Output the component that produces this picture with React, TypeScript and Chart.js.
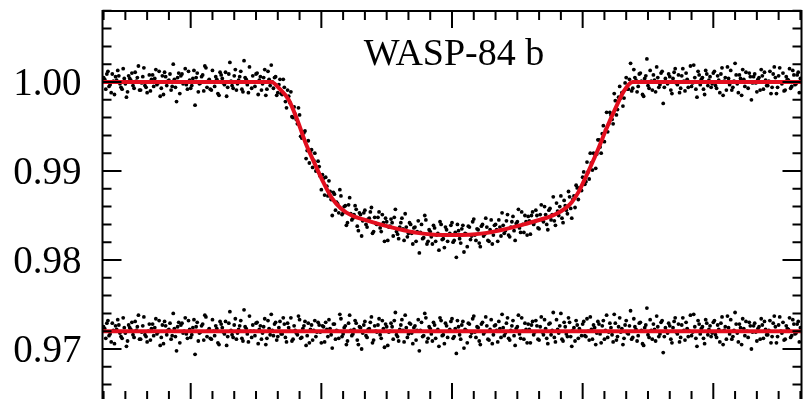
import React, { useEffect, useRef } from "react";
import { Chart, registerables } from "chart.js";

Chart.register(...registerables);

// Observation times, minutes from mid-transit (first set)
const minutes = [
  -160, -159, -158, -157, -156, -155, -154, -153, -152, -151, -150, -149, -148, -147, -146, -145, -144, -143, -142, -141,
  -140, -139, -138, -137, -136, -135, -134, -133, -132, -131, -130, -129, -128, -127, -126, -125, -124, -123, -122, -121,
  -120, -119, -118, -117, -116, -115, -114, -113, -112, -111, -110, -109, -108, -107, -106, -105, -104, -103, -102, -101,
  -100, -99, -98, -97, -96, -95, -94, -93, -92, -91, -90, -89, -88, -87, -86, -85, -84, -83, -82, -81,
  -80, -79, -78, -77, -76, -75, -74, -73, -72, -71, -70, -69, -68, -67, -66, -65, -64, -63, -62, -61,
  -60, -59, -58, -57, -56, -55, -54, -53, -52, -51, -50, -49, -48, -47, -46, -45, -44, -43, -42, -41,
  -40, -39, -38, -37, -36, -35, -34, -33, -32, -31, -30, -29, -28, -27, -26, -25, -24, -23, -22, -21,
  -20, -19, -18, -17, -16, -15, -14, -13, -12, -11, -10, -9, -8, -7, -6, -5, -4, -3, -2, -1,
  0, 1, 2, 3, 4, 5, 6, 7, 8, 9, 10, 11, 12, 13, 14, 15, 16, 17, 18, 19,
  20, 21, 22, 23, 24, 25, 26, 27, 28, 29, 30, 31, 32, 33, 34, 35, 36, 37, 38, 39,
  40, 41, 42, 43, 44, 45, 46, 47, 48, 49, 50, 51, 52, 53, 54, 55, 56, 57, 58, 59,
  60, 61, 62, 63, 64, 65, 66, 67, 68, 69, 70, 71, 72, 73, 74, 75, 76, 77, 78, 79,
  80, 81, 82, 83, 84, 85, 86, 87, 88, 89, 90, 91, 92, 93, 94, 95, 96, 97, 98, 99,
  100, 101, 102, 103, 104, 105, 106, 107, 108, 109, 110, 111, 112, 113, 114, 115, 116, 117, 118, 119,
  120, 121, 122, 123, 124, 125, 126, 127, 128, 129, 130, 131, 132, 133, 134, 135, 136, 137, 138, 139,
  140, 141, 142, 143, 144, 145, 146, 147, 148, 149, 150, 151, 152, 153, 154, 155, 156, 157, 158, 159, 160,
];

// Relative flux (upper light curve), first set
const flux = [
  1.0005, 0.9992, 1.0012, 0.9997, 1.0009, 0.9986, 1.0002, 1.0007, 0.9994, 1.0015, 0.9998, 0.9989, 1.0004, 1.001, 0.9993, 1.0001, 1.0018, 0.9991, 1.0006, 0.9996,
  0.9988, 1.0008, 1.0003, 0.9995, 1.0014, 0.9999, 0.9984, 1.0007, 1.0011, 0.9996, 1.0002, 0.9991, 1.002, 0.9994, 1.0005, 0.9987, 1.0009, 1.0, 0.9997, 1.0012,
  0.9993, 1.0004, 0.9974, 1.001, 0.9998, 1.0006, 0.999, 1.0016, 1.0001, 0.9992, 1.0013, 0.9995, 1.0003, 0.9985, 1.0008, 0.9999, 1.0011, 0.9994, 1.0022, 0.9996,
  1.0007, 0.9991, 1.0002, 1.0012, 0.9989, 1.0005, 0.9997, 1.0017, 0.9993, 1.0, 1.0009, 0.9986, 1.0006, 0.9998, 1.0014, 0.9992, 1.0003, 1.0019, 0.9993, 1.0006,
  0.9988, 1.0003, 0.9986, 0.9994, 0.9971, 0.9984, 0.9989, 0.996, 0.9964, 0.9953, 0.9963, 0.9937, 0.9943, 0.9914, 0.9934, 0.9921, 0.9904, 0.992, 0.9902, 0.9905,
  0.9879, 0.9892, 0.9893, 0.9872, 0.9877, 0.985, 0.9874, 0.9865, 0.9853, 0.9872, 0.9853, 0.9861, 0.9842, 0.987, 0.9845, 0.9851, 0.9857, 0.9833, 0.9851, 0.9844,
  0.9856, 0.9837, 0.9847, 0.9859, 0.9832, 0.9841, 0.9848, 0.9836, 0.9851, 0.9821, 0.9843, 0.9837, 0.9846, 0.9827, 0.9857, 0.9829, 0.9837, 0.9847, 0.9822, 0.9837,
  0.983, 0.984, 0.9818, 0.9837, 0.9832, 0.9808, 0.984, 0.9825, 0.9845, 0.9821, 0.9832, 0.9818, 0.9836, 0.9828, 0.9811, 0.984, 0.9824, 0.9837, 0.9821, 0.983,
  0.9842, 0.9822, 0.9803, 0.9833, 0.9819, 0.9839, 0.983, 0.9815, 0.9837, 0.9827, 0.9846, 0.9822, 0.9834, 0.9815, 0.984, 0.9829, 0.9837, 0.9821, 0.9845, 0.9828,
  0.984, 0.9821, 0.9837, 0.9853, 0.983, 0.9844, 0.9828, 0.9837, 0.9849, 0.9822, 0.9843, 0.9836, 0.9854, 0.9831, 0.9843, 0.9849, 0.9829, 0.9854, 0.9843, 0.985,
  0.9835, 0.9862, 0.9843, 0.9851, 0.9834, 0.9858, 0.9851, 0.9844, 0.9864, 0.985, 0.9872, 0.9842, 0.9861, 0.9852, 0.9871, 0.9847, 0.9872, 0.9884, 0.9868, 0.988,
  0.9893, 0.9885, 0.991, 0.9891, 0.9909, 0.992, 0.9903, 0.9935, 0.9927, 0.9942, 0.9933, 0.9966, 0.9953, 0.9963, 0.9953, 0.9979, 0.9969, 0.9995, 0.9988, 0.9982,
  1.0005, 0.9992, 1.0021, 0.9993, 1.0005, 0.9989, 1.0009, 1.0001, 0.9984, 1.0007, 0.9996, 1.0013, 0.9991, 1.0002, 1.0017, 0.9994, 1.001, 0.9976, 1.0004, 0.9998,
  1.0006, 0.9987, 1.0011, 0.9999, 1.0008, 0.9993, 1.0015, 0.999, 1.0003, 1.0, 0.9995, 1.0019, 0.9992, 1.0012, 0.9997, 1.0005, 0.9986, 1.0009, 1.0002, 0.9994,
  1.001, 0.9996, 1.0007, 0.9988, 1.0016, 1.0001, 0.9991, 1.0004, 1.0013, 0.9994, 1.0021, 0.9998, 1.0008, 0.9985, 1.0003, 1.0011, 0.9993, 1.0006, 0.9999, 1.0009,
  0.9989, 1.0005, 1.0014, 0.9992, 1.0002, 0.9996, 1.0012, 0.9994, 1.0017, 0.9987, 1.0007, 1.0, 1.001, 0.9991, 1.0003, 1.0015, 0.9995, 1.0008, 0.9998, 1.0011, 1.0004,
];

// Residuals (offset to 0.972), first set
const residuals = [
  0.9725, 0.9712, 0.9732, 0.9717, 0.9729, 0.9706, 0.9722, 0.9727, 0.9714, 0.9735, 0.9718, 0.9709, 0.9724, 0.973, 0.9713, 0.9721, 0.9738, 0.9711, 0.9726, 0.9716,
  0.9708, 0.9728, 0.9723, 0.9715, 0.9734, 0.9719, 0.9704, 0.9727, 0.9731, 0.9716, 0.9722, 0.9711, 0.974, 0.9714, 0.9725, 0.9707, 0.9729, 0.972, 0.9717, 0.9732,
  0.9713, 0.9724, 0.9694, 0.973, 0.9718, 0.9726, 0.971, 0.9736, 0.9721, 0.9712, 0.9733, 0.9715, 0.9723, 0.9705, 0.9728, 0.9719, 0.9731, 0.9714, 0.9742, 0.9716,
  0.9727, 0.9711, 0.9722, 0.9732, 0.9709, 0.9725, 0.9717, 0.9737, 0.9713, 0.972, 0.9729, 0.9706, 0.9726, 0.9718, 0.9734, 0.9712, 0.9723, 0.9739, 0.9715, 0.973,
  0.9714, 0.9731, 0.9717, 0.9728, 0.9708, 0.9724, 0.9735, 0.9711, 0.9721, 0.9716, 0.9733, 0.9713, 0.9726, 0.9704, 0.9729, 0.9722, 0.971, 0.9732, 0.9719, 0.9727,
  0.9707, 0.9725, 0.973, 0.9714, 0.9723, 0.9701, 0.9728, 0.9721, 0.9712, 0.9734, 0.9717, 0.9726, 0.9709, 0.9738, 0.9715, 0.9722, 0.9729, 0.9705, 0.9724, 0.9718,
  0.9731, 0.9713, 0.9723, 0.9736, 0.971, 0.972, 0.9727, 0.9716, 0.9732, 0.9702, 0.9725, 0.9719, 0.9729, 0.9711, 0.9741, 0.9714, 0.9722, 0.9733, 0.9708, 0.9724,
  0.9717, 0.9728, 0.9706, 0.9726, 0.9721, 0.9698, 0.973, 0.9715, 0.9735, 0.9712, 0.9723, 0.9709, 0.9727, 0.972, 0.9703, 0.9732, 0.9716, 0.9729, 0.9713, 0.9722,
  0.9734, 0.9714, 0.9695, 0.9725, 0.9711, 0.9731, 0.9722, 0.9707, 0.9728, 0.9718, 0.9737, 0.9713, 0.9724, 0.9705, 0.973, 0.9719, 0.9726, 0.971, 0.9733, 0.9716,
  0.9727, 0.9708, 0.9723, 0.9739, 0.9715, 0.9729, 0.9712, 0.9721, 0.9732, 0.9704, 0.9725, 0.9717, 0.9735, 0.9711, 0.9722, 0.9728, 0.9707, 0.9731, 0.9719, 0.9726,
  0.971, 0.9736, 0.9716, 0.9723, 0.9706, 0.9729, 0.9721, 0.9713, 0.9733, 0.9718, 0.974, 0.9709, 0.9725, 0.9714, 0.973, 0.9703, 0.9724, 0.9732, 0.9712, 0.972,
  0.9728, 0.9715, 0.9734, 0.971, 0.9722, 0.9727, 0.9705, 0.9731, 0.9717, 0.9726, 0.9711, 0.9738, 0.9719, 0.9724, 0.9708, 0.9729, 0.9714, 0.9735, 0.9723, 0.9712,
  0.9732, 0.9717, 0.9743, 0.9713, 0.9725, 0.9709, 0.9729, 0.9721, 0.9704, 0.9727, 0.9716, 0.9733, 0.9711, 0.9722, 0.9737, 0.9714, 0.973, 0.9696, 0.9724, 0.9718,
  0.9726, 0.9707, 0.9731, 0.9719, 0.9728, 0.9713, 0.9735, 0.971, 0.9723, 0.972, 0.9715, 0.9739, 0.9712, 0.9732, 0.9717, 0.9725, 0.9706, 0.9729, 0.9722, 0.9714,
  0.973, 0.9716, 0.9727, 0.9708, 0.9736, 0.9721, 0.9711, 0.9724, 0.9733, 0.9714, 0.9741, 0.9718, 0.9728, 0.9705, 0.9723, 0.9731, 0.9713, 0.9726, 0.9719, 0.9729,
  0.9709, 0.9725, 0.9734, 0.9712, 0.9722, 0.9716, 0.9732, 0.9714, 0.9737, 0.9707, 0.9727, 0.972, 0.973, 0.9711, 0.9723, 0.9735, 0.9715, 0.9728, 0.9718, 0.9731, 0.9724,
];

// Observation times, second (interleaved) set
const minutesB = [
  -159.5, -158.5, -157.5, -156.5, -155.5, -154.5, -153.5, -152.5, -151.5, -150.5, -149.5, -148.5, -147.5, -146.5, -145.5, -144.5, -143.5, -142.5, -141.5, -140.5,
  -139.5, -138.5, -137.5, -136.5, -135.5, -134.5, -133.5, -132.5, -131.5, -130.5, -129.5, -128.5, -127.5, -126.5, -125.5, -124.5, -123.5, -122.5, -121.5, -120.5,
  -119.5, -118.5, -117.5, -116.5, -115.5, -114.5, -113.5, -112.5, -111.5, -110.5, -109.5, -108.5, -107.5, -106.5, -105.5, -104.5, -103.5, -102.5, -101.5, -100.5,
  -99.5, -98.5, -97.5, -96.5, -95.5, -94.5, -93.5, -92.5, -91.5, -90.5, -89.5, -88.5, -87.5, -86.5, -85.5, -84.5, -83.5, -82.5, -81.5, -80.5,
  -79.5, -78.5, -77.5, -76.5, -75.5, -74.5, -73.5, -72.5, -71.5, -70.5, -69.5, -68.5, -67.5, -66.5, -65.5, -64.5, -63.5, -62.5, -61.5, -60.5,
  -59.5, -58.5, -57.5, -56.5, -55.5, -54.5, -53.5, -52.5, -51.5, -50.5, -49.5, -48.5, -47.5, -46.5, -45.5, -44.5, -43.5, -42.5, -41.5, -40.5,
  -39.5, -38.5, -37.5, -36.5, -35.5, -34.5, -33.5, -32.5, -31.5, -30.5, -29.5, -28.5, -27.5, -26.5, -25.5, -24.5, -23.5, -22.5, -21.5, -20.5,
  -19.5, -18.5, -17.5, -16.5, -15.5, -14.5, -13.5, -12.5, -11.5, -10.5, -9.5, -8.5, -7.5, -6.5, -5.5, -4.5, -3.5, -2.5, -1.5, -0.5,
  0.5, 1.5, 2.5, 3.5, 4.5, 5.5, 6.5, 7.5, 8.5, 9.5, 10.5, 11.5, 12.5, 13.5, 14.5, 15.5, 16.5, 17.5, 18.5, 19.5,
  20.5, 21.5, 22.5, 23.5, 24.5, 25.5, 26.5, 27.5, 28.5, 29.5, 30.5, 31.5, 32.5, 33.5, 34.5, 35.5, 36.5, 37.5, 38.5, 39.5,
  40.5, 41.5, 42.5, 43.5, 44.5, 45.5, 46.5, 47.5, 48.5, 49.5, 50.5, 51.5, 52.5, 53.5, 54.5, 55.5, 56.5, 57.5, 58.5, 59.5,
  60.5, 61.5, 62.5, 63.5, 64.5, 65.5, 66.5, 67.5, 68.5, 69.5, 70.5, 71.5, 72.5, 73.5, 74.5, 75.5, 76.5, 77.5, 78.5, 79.5,
  80.5, 81.5, 82.5, 83.5, 84.5, 85.5, 86.5, 87.5, 88.5, 89.5, 90.5, 91.5, 92.5, 93.5, 94.5, 95.5, 96.5, 97.5, 98.5, 99.5,
  100.5, 101.5, 102.5, 103.5, 104.5, 105.5, 106.5, 107.5, 108.5, 109.5, 110.5, 111.5, 112.5, 113.5, 114.5, 115.5, 116.5, 117.5, 118.5, 119.5,
  120.5, 121.5, 122.5, 123.5, 124.5, 125.5, 126.5, 127.5, 128.5, 129.5, 130.5, 131.5, 132.5, 133.5, 134.5, 135.5, 136.5, 137.5, 138.5, 139.5,
  140.5, 141.5, 142.5, 143.5, 144.5, 145.5, 146.5, 147.5, 148.5, 149.5, 150.5, 151.5, 152.5, 153.5, 154.5, 155.5, 156.5, 157.5, 158.5, 159.5,
];

// Relative flux, second set
const fluxB = [
  1.0003, 1.0009, 0.9995, 0.9988, 1.0001, 1.0006, 1.0013, 0.9998, 0.9992, 1.0004, 0.9983, 1.0007, 1.0002, 0.9996, 1.0011, 1.0005, 0.9991, 0.9999, 1.0016, 0.9994,
  1.0, 0.999, 1.0008, 1.0004, 0.9997, 1.0012, 0.9993, 0.9986, 1.0006, 1.0001, 1.0009, 0.9995, 1.0003, 0.9978, 1.001, 1.0007, 0.9998, 1.0015, 0.9992, 1.0002,
  0.9996, 1.0013, 1.0005, 0.9989, 0.9999, 1.0008, 1.0018, 0.9994, 1.0003, 0.9991, 1.0, 1.0006, 0.9987, 1.0011, 1.0004, 0.9997, 0.9984, 1.0009, 1.0001, 0.9993,
  1.0014, 0.9998, 1.0006, 0.9992, 1.0024, 1.0003, 0.9988, 1.0, 1.0007, 0.9995, 1.001, 1.0002, 0.9991, 1.0005, 0.9985, 1.0012, 0.9996, 1.0, 1.0005, 0.9985,
  0.9997, 0.9987, 1.0003, 0.9978, 0.9991, 0.9977, 0.9961, 0.9972, 0.9958, 0.9971, 0.9939, 0.9944, 0.9945, 0.9923, 0.9909, 0.9924, 0.9912, 0.99, 0.9911, 0.9894,
  0.9896, 0.9873, 0.9883, 0.9889, 0.9868, 0.9876, 0.9856, 0.9863, 0.9879, 0.9851, 0.986, 0.9839, 0.9862, 0.9852, 0.9847, 0.9861, 0.9838, 0.9853, 0.9827, 0.9853,
  0.984, 0.9846, 0.9854, 0.983, 0.9848, 0.984, 0.9854, 0.9832, 0.9842, 0.9847, 0.9822, 0.9838, 0.9842, 0.9848, 0.9832, 0.9824, 0.9842, 0.9835, 0.9852, 0.9826,
  0.9842, 0.983, 0.9836, 0.9821, 0.9844, 0.9831, 0.9824, 0.985, 0.9818, 0.9834, 0.9826, 0.9839, 0.9821, 0.983, 0.9843, 0.9823, 0.9814, 0.9834, 0.9828, 0.9839,
  0.982, 0.9831, 0.984, 0.9824, 0.9835, 0.9809, 0.9829, 0.9838, 0.9823, 0.9843, 0.9828, 0.9835, 0.9819, 0.9838, 0.9827, 0.9847, 0.9822, 0.9834, 0.9818, 0.9839,
  0.9834, 0.9845, 0.9827, 0.9839, 0.9833, 0.9851, 0.9826, 0.9843, 0.9833, 0.9841, 0.9857, 0.9831, 0.984, 0.985, 0.9828, 0.9844, 0.985, 0.984, 0.9856, 0.9836,
  0.9851, 0.9845, 0.986, 0.984, 0.9856, 0.9845, 0.9871, 0.9839, 0.9855, 0.986, 0.9847, 0.9867, 0.9856, 0.9877, 0.9858, 0.9868, 0.9859, 0.9881, 0.9881, 0.9878,
  0.9899, 0.9888, 0.9899, 0.992, 0.9901, 0.9919, 0.9919, 0.9935, 0.992, 0.9951, 0.9946, 0.9944, 0.9966, 0.9958, 0.9987, 0.9963, 0.9983, 0.9982, 0.9973, 0.9999,
  0.9992, 1.0003, 0.999, 1.0014, 1.0002, 0.9995, 1.001, 0.9986, 1.0004, 1.0026, 0.9993, 1.0001, 1.0008, 0.9989, 1.0005, 0.9997, 1.0012, 0.9994, 1.0, 1.0009,
  0.9991, 1.0004, 1.0015, 0.9997, 0.9988, 1.0007, 1.0001, 1.001, 0.9994, 1.0018, 0.9999, 1.0005, 0.9983, 1.0008, 1.0003, 0.9992, 1.0013, 0.9996, 1.0006, 0.9998,
  1.0012, 0.9993, 1.0002, 1.0009, 0.9985, 1.0005, 1.0017, 0.9997, 0.9991, 1.0001, 1.0008, 0.9988, 1.0004, 1.0014, 0.9995, 1.0, 1.001, 0.998, 1.0006, 0.9999,
  1.0003, 0.9991, 1.0007, 1.0011, 0.9996, 1.0001, 0.9987, 1.0009, 1.0005, 0.9994, 1.0016, 0.9998, 0.999, 1.0006, 1.0002, 0.9993, 1.0013, 0.9997, 1.0008, 0.9988,
];

// Residuals (offset to 0.972), second set
const residualsB = [
  0.9723, 0.9729, 0.9715, 0.9708, 0.9721, 0.9726, 0.9733, 0.9718, 0.9712, 0.9724, 0.9703, 0.9727, 0.9722, 0.9716, 0.9731, 0.9725, 0.9711, 0.9719, 0.9736, 0.9714,
  0.972, 0.971, 0.9728, 0.9724, 0.9717, 0.9732, 0.9713, 0.9706, 0.9726, 0.9721, 0.9729, 0.9715, 0.9723, 0.9698, 0.973, 0.9727, 0.9718, 0.9735, 0.9712, 0.9722,
  0.9716, 0.9733, 0.9725, 0.9709, 0.9719, 0.9728, 0.9738, 0.9714, 0.9723, 0.9711, 0.972, 0.9726, 0.9707, 0.9731, 0.9724, 0.9717, 0.9704, 0.9729, 0.9721, 0.9713,
  0.9734, 0.9718, 0.9726, 0.9712, 0.9744, 0.9723, 0.9708, 0.972, 0.9727, 0.9715, 0.973, 0.9722, 0.9711, 0.9725, 0.9705, 0.9732, 0.9716, 0.9721, 0.9728, 0.971,
  0.9724, 0.9717, 0.9735, 0.9713, 0.9729, 0.972, 0.9709, 0.9726, 0.9718, 0.9737, 0.9712, 0.9723, 0.9731, 0.9715, 0.9707, 0.9727, 0.9721, 0.9714, 0.973, 0.9719,
  0.9726, 0.9708, 0.9722, 0.9733, 0.9716, 0.9728, 0.9711, 0.972, 0.9739, 0.9714, 0.9724, 0.9705, 0.9729, 0.9721, 0.9717, 0.9732, 0.971, 0.9725, 0.97, 0.9727,
  0.9715, 0.9722, 0.973, 0.9707, 0.9726, 0.9719, 0.9734, 0.9712, 0.9723, 0.9728, 0.9704, 0.972, 0.9725, 0.9732, 0.9716, 0.9709, 0.9727, 0.9721, 0.9738, 0.9713,
  0.9729, 0.9718, 0.9724, 0.971, 0.9733, 0.9721, 0.9714, 0.974, 0.9708, 0.9725, 0.9717, 0.973, 0.9712, 0.9722, 0.9735, 0.9715, 0.9706, 0.9726, 0.972, 0.9731,
  0.9712, 0.9723, 0.9732, 0.9716, 0.9727, 0.9701, 0.9721, 0.9729, 0.9714, 0.9734, 0.9719, 0.9725, 0.9709, 0.9728, 0.9717, 0.9736, 0.9711, 0.9722, 0.9706, 0.9726,
  0.9721, 0.9731, 0.9713, 0.9724, 0.9718, 0.9735, 0.971, 0.9726, 0.9715, 0.9723, 0.9738, 0.9712, 0.972, 0.9729, 0.9707, 0.9722, 0.9727, 0.9716, 0.9732, 0.9711,
  0.9725, 0.9719, 0.9733, 0.9712, 0.9728, 0.9716, 0.9741, 0.9708, 0.9722, 0.9726, 0.9711, 0.973, 0.9717, 0.9735, 0.9714, 0.9721, 0.9709, 0.9727, 0.9723, 0.9715,
  0.9731, 0.9714, 0.972, 0.9736, 0.9711, 0.9724, 0.9718, 0.9728, 0.9707, 0.9732, 0.9721, 0.9713, 0.9729, 0.9716, 0.9739, 0.971, 0.9725, 0.9719, 0.9705, 0.9727,
  0.9718, 0.9726, 0.9711, 0.9734, 0.9722, 0.9715, 0.973, 0.9706, 0.9724, 0.9746, 0.9713, 0.9721, 0.9728, 0.9709, 0.9725, 0.9717, 0.9732, 0.9714, 0.972, 0.9729,
  0.9711, 0.9724, 0.9735, 0.9717, 0.9708, 0.9727, 0.9721, 0.973, 0.9714, 0.9738, 0.9719, 0.9725, 0.9703, 0.9728, 0.9723, 0.9712, 0.9733, 0.9716, 0.9726, 0.9718,
  0.9732, 0.9713, 0.9722, 0.9729, 0.9705, 0.9725, 0.9737, 0.9717, 0.9711, 0.9721, 0.9728, 0.9708, 0.9724, 0.9734, 0.9715, 0.972, 0.973, 0.97, 0.9726, 0.9719,
  0.9723, 0.9711, 0.9727, 0.9731, 0.9716, 0.9721, 0.9707, 0.9729, 0.9725, 0.9714, 0.9736, 0.9718, 0.971, 0.9726, 0.9722, 0.9713, 0.9733, 0.9717, 0.9728, 0.9708,
];

// Transit model (red curve)
const modelMinutes = [
  -160.5, -83, -79, -75, -71, -67, -63, -59, -55, -51, -46, -40, -33, -25, -16, -8, 0,
  8, 16, 25, 33, 40, 44, 48, 52, 55, 58, 61, 64, 67, 71, 75, 79, 83, 160.5,
];
const modelFlux = [
  1.0, 1.0, 0.9992, 0.998, 0.9957, 0.993, 0.9908, 0.9887, 0.9869, 0.9858, 0.985, 0.9845, 0.984, 0.9835, 0.98305, 0.98285, 0.9828,
  0.98285, 0.98305, 0.9835, 0.984, 0.9845, 0.9848, 0.9852, 0.9858, 0.9865, 0.9876, 0.9891, 0.9907, 0.9924, 0.9948, 0.997, 0.999, 1.0, 1.0,
];

// Residual zero line
const residualLineMinutes = [-160.5, 160.5];
const residualLineFlux = [0.972, 0.972];

const yTickLabels = [1.0, 0.99, 0.98, 0.97];
const titleText = "WASP-84 b";

const X_MIN = -160.5;
const X_MAX = 160.5;
const Y_MIN = 0.96427;
const Y_MAX = 1.00798;
const RED = "rgb(226, 14, 30)";
const SERIF = "'Liberation Serif', 'Times New Roman', Times, serif";

const framePlugin = {
  id: "frameTicks",
  afterDatasetsDraw(chart: any) {
    const { ctx, chartArea: a, scales } = chart;
    const xs = scales.x;
    const ys = scales.y;
    ctx.save();
    ctx.strokeStyle = "#000";
    ctx.lineWidth = 2;
    ctx.strokeRect(a.left, a.top, a.right - a.left, a.bottom - a.top);
    ctx.beginPath();
    for (let k = 482; k <= 504; k++) {
      const y = ys.getPixelForValue(k * 0.002);
      const len = k % 5 === 0 ? 19 : 9;
      ctx.moveTo(a.left, y);
      ctx.lineTo(a.left + len, y);
      ctx.moveTo(a.right, y);
      ctx.lineTo(a.right - len, y);
    }
    for (let m = -160; m <= 160; m += 10) {
      const x = xs.getPixelForValue(m);
      const len = m % 60 === 0 ? 17 : 9;
      ctx.moveTo(x, a.top);
      ctx.lineTo(x, a.top + len);
      ctx.moveTo(x, a.bottom);
      ctx.lineTo(x, a.bottom - len);
    }
    ctx.stroke();

    ctx.fillStyle = "#000";
    ctx.font = `39px ${SERIF}`;
    ctx.textAlign = "right";
    ctx.textBaseline = "middle";
    for (const v of yTickLabels) {
      ctx.fillText(v.toFixed(2), a.left - 21, ys.getPixelForValue(v) + 3);
    }
    ctx.font = `38px ${SERIF}`;
    ctx.textAlign = "center";
    ctx.textBaseline = "alphabetic";
    ctx.fillText(titleText, (a.left + a.right) / 2 + 2, a.top + 54);
    ctx.restore();
  },
};

export default function App() {
  const canvasRef = useRef<HTMLCanvasElement | null>(null);

  useEffect(() => {
    const canvas = canvasRef.current;
    if (!canvas) return;
    const pts = (xs: number[], ys: number[]) => xs.map((x, i) => ({ x, y: ys[i] }));
    const dots = {
      pointRadius: 1.9,
      pointBackgroundColor: "#000",
      pointBorderWidth: 0,
      order: 1,
    };
    const chart = new Chart(canvas, {
      type: "scatter",
      data: {
        datasets: [
          {
            label: "Model",
            data: pts(modelMinutes, modelFlux),
            showLine: true,
            borderColor: RED,
            borderWidth: 4,
            pointRadius: 0,
            fill: false,
            cubicInterpolationMode: "monotone",
            order: 0,
          },
          {
            label: "Residual line",
            data: pts(residualLineMinutes, residualLineFlux),
            showLine: true,
            borderColor: RED,
            borderWidth: 4,
            pointRadius: 0,
            fill: false,
            order: 0,
          },
          { label: "Flux", data: pts(minutes, flux), ...dots },
          { label: "Flux B", data: pts(minutesB, fluxB), ...dots },
          { label: "Residuals", data: pts(minutes, residuals), ...dots },
          { label: "Residuals B", data: pts(minutesB, residualsB), ...dots },
        ],
      } as any,
      options: {
        responsive: false,
        animation: false,
        devicePixelRatio: 1,
        events: [],
        layout: { padding: { left: 102.5, right: 4.5, top: 11, bottom: 10 } },
        scales: {
          x: { type: "linear", min: X_MIN, max: X_MAX, display: false },
          y: { type: "linear", min: Y_MIN, max: Y_MAX, display: false },
        },
        plugins: {
          legend: { display: false },
          tooltip: { enabled: false },
          title: { display: false },
        },
      } as any,
      plugins: [framePlugin],
    });
    return () => chart.destroy();
  }, []);

  return (
    <div
      style={{
        position: "fixed",
        left: 0,
        top: 0,
        width: 806,
        height: 399,
        overflow: "hidden",
        background: "#fff",
      }}
    >
      <canvas ref={canvasRef} width={806} height={410} style={{ display: "block" }} />
    </div>
  );
}
